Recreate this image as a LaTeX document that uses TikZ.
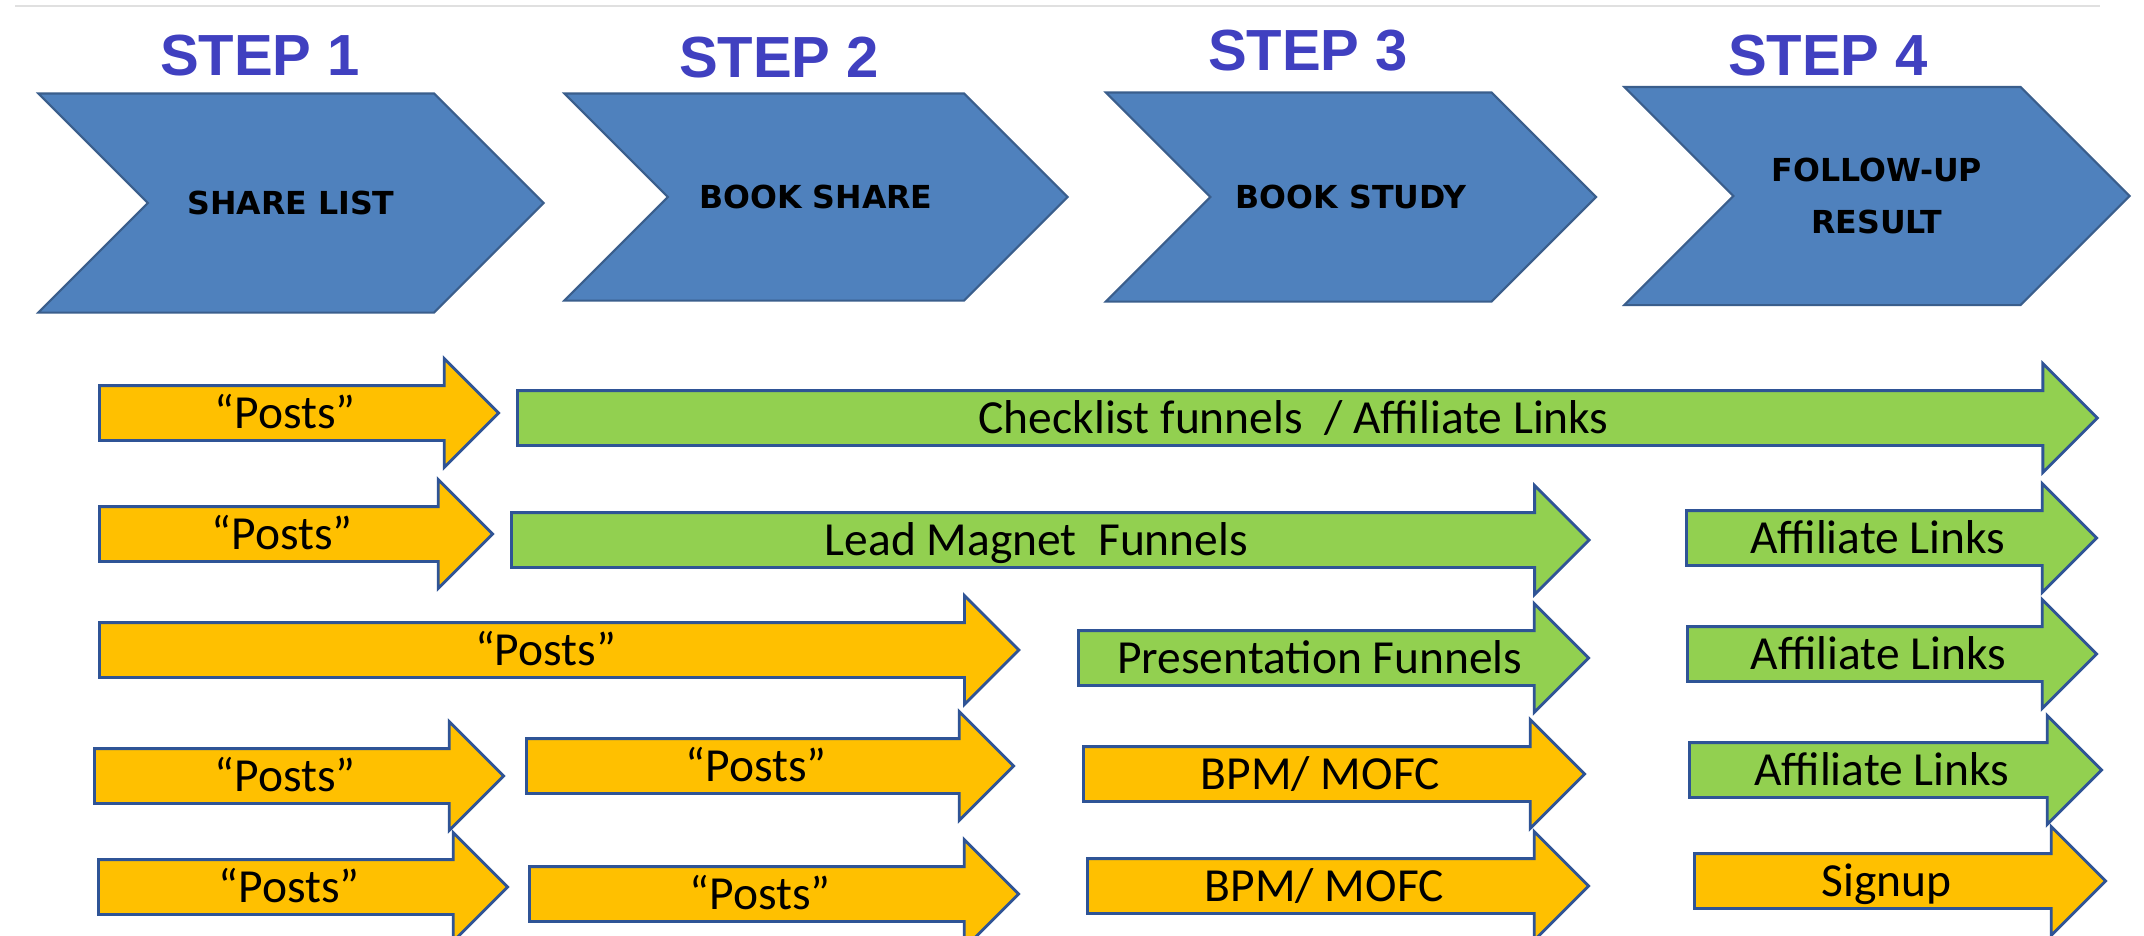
\documentclass[tikz,border=0pt]{standalone}
\usepackage{fontspec}
\setmainfont{Carlito}
\newfontfamily\headfont{Liberation Sans}
\newfontfamily\stagefont{DejaVu Sans}
\usepackage{xcolor}
\usetikzlibrary{shapes.arrows,shapes.symbols}

\definecolor{stepblue}{RGB}{64,64,192}
\definecolor{stagefill}{RGB}{79,129,189}
\definecolor{stageline}{RGB}{58,94,140}
\definecolor{postorange}{RGB}{255,192,0}
\definecolor{funnelgreen}{RGB}{146,208,80}
\definecolor{arrowline}{RGB}{47,84,150}

\begin{document}
\begin{tikzpicture}[
		x=0.01cm, y=-0.01cm,
		steplabel/.style={anchor=base, text=stepblue, font=\headfont\bfseries\fontsize{16.5pt}{18pt}\selectfont},
		stage/.style={signal, signal from=west, signal to=east, fill=stagefill, draw=stageline, line width=0.6pt, align=center, inner sep=0pt, font=\stagefont\bfseries\fontsize{9pt}{15pt}\selectfont},
		flow/.style={single arrow, anchor=tail, draw=arrowline, line width=0.8pt, inner ysep=0pt, inner xsep=2pt, text height=0.41cm, text depth=0.11cm, single arrow head extend=0.27cm, font=\fontsize{13.5pt}{16pt}\selectfont},
		post/.style={flow, fill=postorange},
		funnel/.style={flow, fill=funnelgreen}
	]
		\useasboundingbox (0,0) rectangle (2144,935);
		\clip (0,0) rectangle (2144,935);
		\fill[white] (0,0) rectangle (2144,935);
		\draw[black!12, line width=0.8pt] (15,6) -- (2100,6);
		
		% steps
		\node[steplabel](step-1) at (260,75){STEP 1};
		\node[steplabel](step-2) at (779,77){STEP 2};
		\node[steplabel](step-3) at (1308,70){STEP 3};
		\node[steplabel](step-4) at (1828,75){STEP 4};
		
		\node[stage, minimum width=5.05cm, minimum height=2.19cm](share-list) at (291,203){SHARE LIST};
		\node[stage, minimum width=5.03cm, minimum height=2.07cm](book-share) at (816,197){BOOK SHARE};
		\node[stage, minimum width=4.90cm, minimum height=2.09cm](book-study) at (1351,197){BOOK STUDY};
		\node[stage, minimum width=5.05cm, minimum height=2.18cm](follow-up) at (1877,196){FOLLOW-UP\\RESULT};
		
		% row 1
		\node[post, minimum height=3.99cm](post-1) at (98,413){“Posts”};
		\node[funnel, minimum height=15.79cm](checklist) at (516,418){Checklist funnels~ / Affiliate Links};
		
		% row 2
		\node[post, minimum height=3.93cm](post-2) at (98,534){“Posts”};
		\node[funnel, minimum height=10.77cm](lead-magnet) at (510,540){Lead Magnet~ Funnels};
		\node[funnel, minimum height=4.10cm](link-2) at (1685,538){Affiliate Links};
		
		% row 3
		\node[post, minimum height=9.19cm](post-3) at (98,650){“Posts”};
		\node[funnel, minimum height=5.10cm](presentation) at (1077,658){Presentation Funnels};
		\node[funnel, minimum height=4.09cm](link-3) at (1686,654){Affiliate Links};
		
		% row 4
		\node[post, minimum height=4.09cm](post-4a) at (93,776){“Posts”};
		\node[post, minimum height=4.87cm](post-4b) at (525,766){“Posts”};
		\node[post, minimum height=5.01cm](bpm-4) at (1082,774){BPM/ MOFC};
		\node[funnel, minimum height=4.12cm](link-4) at (1688,770){Affiliate Links};
		
		% row 5
		\node[post, minimum height=4.09cm](post-5a) at (97,887){“Posts”};
		\node[post, minimum height=4.89cm](post-5b) at (528,894){“Posts”};
		\node[post, minimum height=5.01cm](bpm-5) at (1086,886){BPM/ MOFC};
		\node[post, minimum height=4.11cm](signup) at (1693,881){Signup};
	\end{tikzpicture}
\end{document}
